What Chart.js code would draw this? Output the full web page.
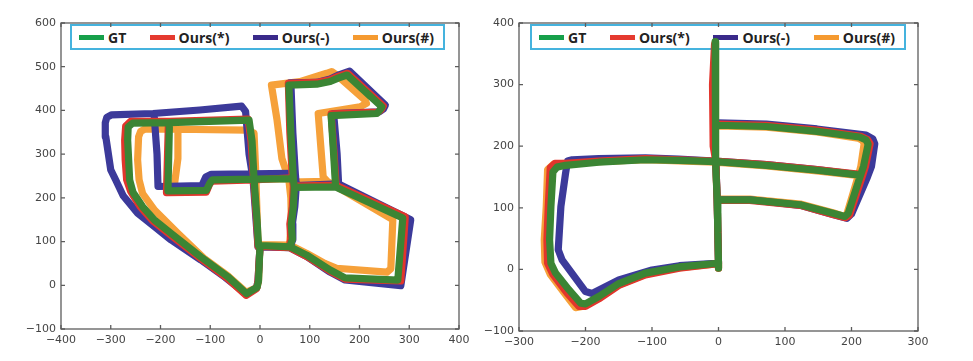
<!DOCTYPE html>
<html>
<head>
<meta charset="utf-8">
<script src="https://cdn.jsdelivr.net/npm/chart.js@4.4.1/dist/chart.umd.min.js"></script>
<style>
  body { margin: 0; background: #fff; width: 973px; height: 361px; position: relative; overflow: hidden; }
  .panel { position: absolute; top: 0; height: 361px; z-index: 2; }
  .key { position: absolute; top: 24px; height: 26px; box-sizing: border-box; border: 2px solid #45b3de;
         display: flex; align-items: center; justify-content: space-between; padding: 0 9px 0 7px;
         font: bold 14px "Open Sans", sans-serif; color: #222; z-index: 1; }
  .key .sw { display: inline-block; width: 25px; height: 5px; margin-right: 4px; vertical-align: middle; position: relative; top: -1px; }
</style>
</head>
<body>
<div class="key" id="keyL" style="left:70px;width:375px"></div>
<div class="key" id="keyR" style="left:530px;width:376px"></div>
<div class="panel" style="left:0;width:480px"><canvas id="left" width="480" height="361"></canvas></div>
<div class="panel" style="left:480px;width:493px"><canvas id="right" width="493" height="361"></canvas></div>
<script>
const labels = ["GT", "Ours(*)", "Ours(-)", "Ours(#)"];
const lineColors = ["#3b8534", "#e2352c", "#3c3a9a", "#f6a13a"];
const keyColors = ["#16a04a", "#e53a2f", "#3a2a8a", "#f59a30"];

const xTicksL = [-400, -300, -200, -100, 0, 100, 200, 300, 400];
const yTicksL = [-100, 0, 100, 200, 300, 400, 500, 600];
const xTicksR = [-300, -200, -100, 0, 100, 200, 300];
const yTicksR = [-100, 0, 100, 200, 300, 400];

// left trajectory, null = pen up
const gtL = [
  [58,458],[114,460],[141,466],[157,474],[175,481],[245,408],[241,401],[235,393],[143,388],[148,300],[152,225],
  [287,154],[277,12],[171,17],[141,35],[94,69],[60,88],[0,91],[-3,10],[-6,-5],[-27,-19],[-65,20],[-119,65],
  [-179,119],[-212,149],[-236,180],[-255,212],[-262,241],[-264,287],[-266,332],[-265,362],[-256,371],[-182,372],
  [-22,378],[-16,330],[-12,243],[-6,150],[-3,91],
  null,
  [-182,372],[-185,216],[-108,217],[-101,233],[-96,241],[-12,243],[67,244],
  null,
  [58,458],[62,350],[67,244],[69,224],[67,180],[63,140],[65,105],[60,88],
  null,
  [69,224],[152,225]
];
const redL = [
  [57,462],[114,464],[141,470],[157,478],[176,485],[248,410],[244,402],[237,396],[143,392],[149,300],[153,229],
  [292,157],[283,10],[171,14],[141,32],[94,66],[60,86],[0,89],[-4,10],[-7,-8],[-28,-23],[-67,17],[-121,63],
  [-182,117],[-216,148],[-241,180],[-260,215],[-268,241],[-271,287],[-272,332],[-270,364],[-260,375],[-182,375],
  [-24,380],[-18,330],[-13,243],[-7,150],[-4,89],
  null,
  [-184,375],[-188,212],[-108,213],[-101,232],[-96,238],[-13,241],[66,246],
  null,
  [57,462],[60,350],[65,246],[67,227],[65,180],[60,140],[62,105],[58,86],
  null,
  [67,227],[153,229]
];
const blueL = [
  [60,463],[114,464],[141,472],[160,482],[180,490],[252,412],[248,403],[240,397],[148,393],[155,300],[158,232],
  [303,150],[283,-1],[171,12],[141,30],[94,66],[60,86],[0,88],[-4,10],[-7,-6],[-28,-20],[-70,18],[-119,58],
  [-179,104],[-212,134],[-246,165],[-275,205],[-290,241],[-300,264],[-310,340],[-311,372],[-308,384],[-298,390],
  [-215,393],[-121,401],[-37,410],[-29,398],[-22,300],[-14,243],[-8,150],[-4,88],
  null,
  [-213,393],[-207,300],[-205,226],[-117,228],[-109,248],[-98,254],[62,256],
  null,
  [62,463],[66,350],[71,256],[73,228],[70,180],[65,140],[66,105],[60,86],
  null,
  [72,228],[158,232]
];
const orangeL = [
  [23,458],[80,466],[134,485],[144,489],[154,481],[211,424],[214,416],[201,408],[117,393],[122,320],[127,248],
  [135,238],[267,150],[263,38],[255,30],[154,39],[130,50],[94,73],[60,92],[0,93],[-3,10],[-6,-5],[-28,-16],
  [-65,22],[-113,62],[-165,119],[-212,172],[-236,210],[-243,241],[-246,287],[-244,340],[-240,352],[-232,357],
  [-165,357],[-27,355],[-12,348],[-9,271],[-7,200],[-4,93],
  null,
  [-165,357],[-165,290],[-172,230],[-178,217],[-108,218],[-101,235],[-96,240],[-9,243],[58,244],
  null,
  [23,458],[34,380],[44,290],[54,256],[58,241],[62,200],[63,150],[60,100],[58,92],
  null,
  [60,236],[135,238]
];

// right trajectory
const gtR = [
  [-5,370],[-5,330],[-4,260],[-4,175],[-2,113],[-1,60],[0,10],[0,2],
  null,
  [-1,234],[72,232],[148,224],[212,215],[222,210],[225,203],[218,167],[213,151],[195,91],[190,86],[172,91],
  [123,105],[47,113],[-1,113],
  null,
  [-4,175],[72,169],[148,161],[213,153],
  null,
  [-4,175],[-60,177],[-110,178],[-180,174],[-230,169],[-243,166],[-249,158],[-252,102],[-254,48],[-252,10],
  [-245,-6],[-225,-33],[-207,-55],[-200,-56],[-180,-44],[-150,-23],[-110,-6],[-59,4],[-1,10]
];
const redR = [
  [-6,365],[-9,300],[-8,200],[-4,175],[-2,113],[0,10],[0,2],
  null,
  [-1,236],[72,234],[148,226],[214,216],[224,211],[228,204],[221,167],[216,150],[197,88],[191,84],[172,89],
  [123,104],[47,112],[-1,112],
  null,
  [-5,176],[72,170],[148,162],[216,154],
  null,
  [-5,176],[-60,178],[-110,180],[-180,176],[-230,172],[-246,172],[-253,165],[-256,102],[-258,48],[-257,10],
  [-249,-8],[-228,-38],[-210,-60],[-200,-60],[-180,-48],[-150,-26],[-110,-9],[-59,2],[-4,9]
];
const blueR = [
  [-4,175],[-2,113],[0,10],
  null,
  [-1,238],[72,236],[148,228],[222,218],[232,212],[235,204],[230,167],[224,150],[200,90],[193,83],[172,89],
  [123,104],[47,113],[2,113],
  null,
  [-5,176],[72,170],[148,162],[224,152],
  null,
  [-5,176],[-60,179],[-110,181],[-180,180],[-220,178],[-227,176],[-230,156],[-237,102],[-241,32],[-235,15],
  [-200,-36],[-190,-39],[-150,-17],[-100,-1],[-59,6],[-4,10]
];
const orangeR = [
  [-5,368],[-5,260],[-4,175],[-2,113],[0,10],[0,2],
  null,
  [-1,233],[72,231],[148,223],[210,213],[217,209],[219,204],[214,167],[210,151],[193,90],[189,86],[172,92],
  [123,106],[47,114],[2,114],
  null,
  [-5,174],[72,168],[148,160],[212,152],
  null,
  [-5,174],[-60,176],[-110,178],[-180,175],[-230,172],[-248,171],[-257,162],[-259,102],[-262,48],[-261,12],
  [-253,-8],[-232,-38],[-215,-62],[-205,-60],[-182,-48],[-150,-25],[-110,-8],[-59,3],[-4,9]
];

const toPts = arr => arr.map(p => p ? { x: p[0], y: p[1] } : { x: 0, y: null });
const fmt = v => String(v).replace("-", "\u2212");

// frame with inward ticks on all four sides
const framePlugin = {
  id: "frame",
  beforeDatasetsDraw(chart) {
    const { ctx, chartArea: a, scales: { x, y } } = chart;
    ctx.save();
    ctx.strokeStyle = "#5c5c5c";
    ctx.lineWidth = 1.3;
    ctx.strokeRect(a.left, a.top, a.right - a.left, a.bottom - a.top);
    ctx.beginPath();
    x.ticks.forEach(t => {
      const p = x.getPixelForValue(t.value);
      ctx.moveTo(p, a.bottom); ctx.lineTo(p, a.bottom - 4);
      ctx.moveTo(p, a.top); ctx.lineTo(p, a.top + 4);
    });
    y.ticks.forEach(t => {
      const p = y.getPixelForValue(t.value);
      ctx.moveTo(a.left, p); ctx.lineTo(a.left + 4, p);
      ctx.moveTo(a.right, p); ctx.lineTo(a.right - 4, p);
    });
    ctx.stroke();
    ctx.restore();
  }
};

function axis(ticks, fit) {
  return {
    type: "linear",
    min: ticks[0],
    max: ticks[ticks.length - 1],
    afterBuildTicks: s => { s.ticks = ticks.map(v => ({ value: v })); },
    afterFit: fit,
    grid: { display: false, drawTicks: false },
    border: { display: false },
    ticks: {
      padding: 5, color: "#444", autoSkip: false, maxRotation: 0,
      font: { family: "DejaVu Sans", size: 11 },
      callback: v => fmt(v)
    }
  };
}

function makeChart(id, series, xT, yT, yW, xH, padRight) {
  return new Chart(document.getElementById(id), {
    type: "scatter",
    data: {
      datasets: series.map((s, i) => ({
        label: labels[i],
        data: toPts(s),
        showLine: true,
        spanGaps: false,
        borderColor: lineColors[i],
        backgroundColor: lineColors[i],
        borderWidth: 7.2,
        borderJoinStyle: "round",
        borderCapStyle: "round",
        pointRadius: 0,
        pointHoverRadius: 0,
        tension: 0
      }))
    },
    options: {
      responsive: false,
      animation: false,
      events: [],
      layout: { padding: { top: 23, right: padRight, left: 0, bottom: 0 } },
      plugins: { legend: { display: false }, tooltip: { enabled: false } },
      scales: {
        x: axis(xT, s => { s.height = xH; }),
        y: axis(yT, s => { s.width = yW; })
      }
    },
    plugins: [framePlugin]
  });
}

makeChart("left", [gtL, redL, blueL, orangeL], xTicksL, yTicksL, 61, 32, 21);
makeChart("right", [gtR, redR, blueR, orangeR], xTicksR, yTicksR, 39, 30, 55);

// legend boxes inside the plots
["keyL", "keyR"].forEach(k => {
  const box = document.getElementById(k);
  labels.forEach((name, i) => {
    const item = document.createElement("span");
    const sw = document.createElement("span");
    sw.className = "sw";
    sw.style.background = keyColors[i];
    item.appendChild(sw);
    item.appendChild(document.createTextNode(name));
    box.appendChild(item);
  });
});
</script>
</body>
</html>
